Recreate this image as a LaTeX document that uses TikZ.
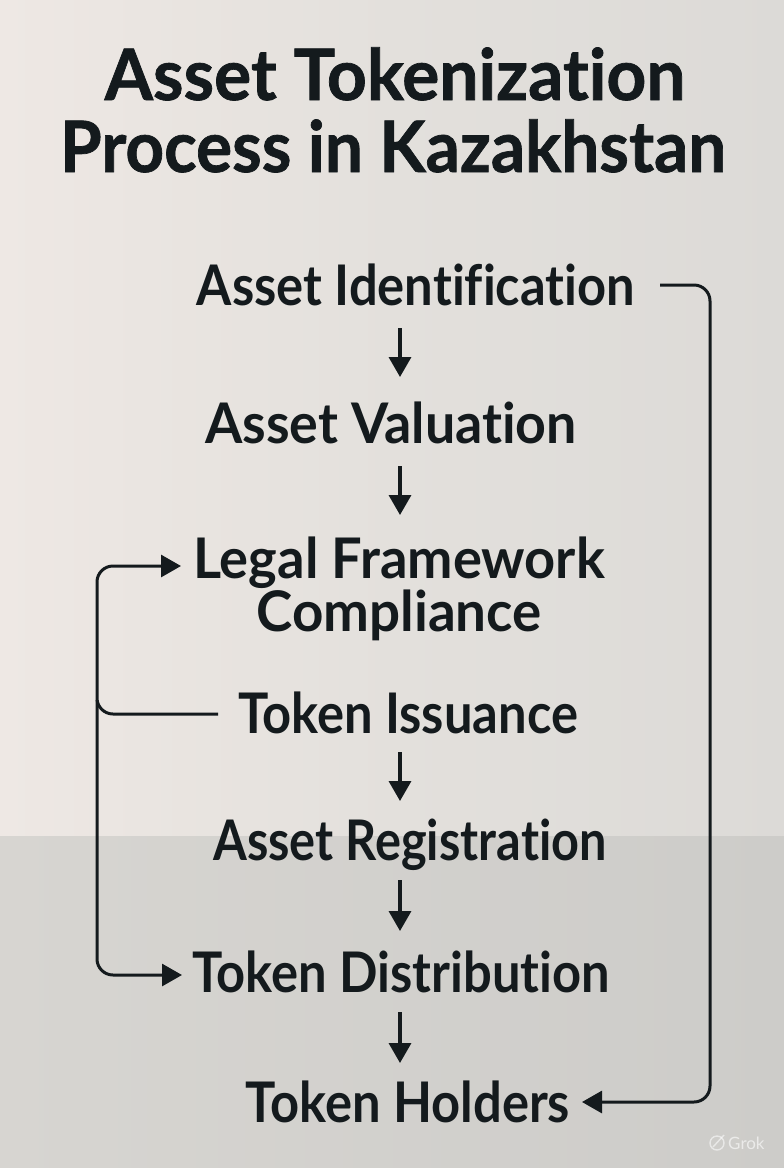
\documentclass[tikz,border=0pt]{standalone}
\usepackage{graphicx}
\usepackage{fontspec}
\setmainfont{Lato}[Ligatures=NoCommon]
\newfontfamily\lblfont{Lato}[Ligatures=NoCommon, UprightFont=* Bold, FakeStretch=0.905]
\newfontfamily\ttlfont{Lato}[Ligatures=NoCommon, UprightFont=* Bold, FakeStretch=0.95, FakeBold=1]
\usetikzlibrary{arrows.meta,calc}
\definecolor{ink}{HTML}{141A1D}
\definecolor{wallL}{HTML}{EEE8E4}
\definecolor{wallM}{HTML}{E3E0DC}
\definecolor{wallR}{HTML}{DCDAD7}
\definecolor{floorL}{HTML}{D7D5D1}
\definecolor{floorR}{HTML}{CDCCC9}
\tikzset{
  lbl/.style={font=\lblfont\fontsize{56}{49}\selectfont, text=ink, anchor=base, inner sep=0pt},
  ttl/.style={font=\ttlfont\fontsize{71}{72}\selectfont, text=ink, anchor=base, inner sep=0pt},
  varr/.style={draw=ink, fill=ink, line width=3.5pt, -{Triangle[length=20pt,width=22pt]}},
  loopline/.style={draw=ink, line width=3pt, rounded corners=16pt},
  looparr/.style={loopline, -{Triangle[length=20pt,width=22pt]}},
}
\begin{document}
\begin{tikzpicture}[x=1pt,y=-1pt]
\useasboundingbox (0,0) rectangle (784,1168);
% background
\shade[left color=wallL, right color=wallR, middle color=wallM] (0,0) rectangle (784,836);
\shade[left color=floorL, right color=floorR] (0,836) rectangle (784,1168);
% title
\node[ttl] (t1) at (395,100) {\scalebox{1.03}[1]{Asset Tokenization}};
\node[ttl] (t2) at (393,172) {Process in Kazakhstan};
% steps
\node[lbl] (ai) at (416,305) {Asset Identification};
\node[lbl] (av) at (391,443) {\scalebox{1.06}[1]{Asset Valuation}};
\node[lbl, align=center] (lf) at (399,631) {\scalebox{1.07}[1]{Legal Framework}\\\scalebox{1.08}[1]{Compliance}};
\node[lbl] (ti) at (408,733) {Token Issuance};
\node[lbl] (ar) at (410,860) {\scalebox{0.96}[1]{Asset Registration}};
\node[lbl] (td) at (401,992) {Token Distribution};
\node[lbl] (th) at (408,1122) {Token Holders};
% arrow end points
\coordinate (a1s) at (400,328); \coordinate (a1e) at (400,377);
\coordinate (a2s) at (400,466); \coordinate (a2e) at (400,515);
\coordinate (a3s) at (400,752); \coordinate (a3e) at (400,801);
\coordinate (a4s) at (400,880); \coordinate (a4e) at (400,931);
\coordinate (a5s) at (400,1012); \coordinate (a5e) at (400,1063);
\draw[varr] (a1s) -- (a1e);
\draw[varr] (a2s) -- (a2e);
\draw[varr] (a3s) -- (a3e);
\draw[varr] (a4s) -- (a4e);
\draw[varr] (a5s) -- (a5e);
% left loop
\coordinate (tiL) at (218,714);
\coordinate (lfL) at (181,566);
\coordinate (tdL) at (182,975);
\coordinate (lj) at (97,714);
\draw[looparr] (tiL) -- (lj) -- (97,566) -- (lfL);
\draw[looparr] (97,700) -- (97,975) -- (tdL);
% right loop
\coordinate (aiR) at (660,285);
\coordinate (thR) at (582,1102);
\draw[looparr] (aiR) -- (710,285) -- (710,1102) -- (thR);
% watermark
\node[circle, draw=white, line width=1.4pt, minimum size=14pt, inner sep=0pt, opacity=0.55] (gl) at (717,1143) {};
\draw[white, line width=1.4pt, opacity=0.55] ($(gl.center)+(-4,4)$) -- ($(gl.center)+(7,-8)$);
\node[font=\fontsize{17}{18}\selectfont, text=white, text opacity=0.6, anchor=west, inner sep=0pt] (gt) at (728,1143) {Grok};
\end{tikzpicture}
\end{document}
